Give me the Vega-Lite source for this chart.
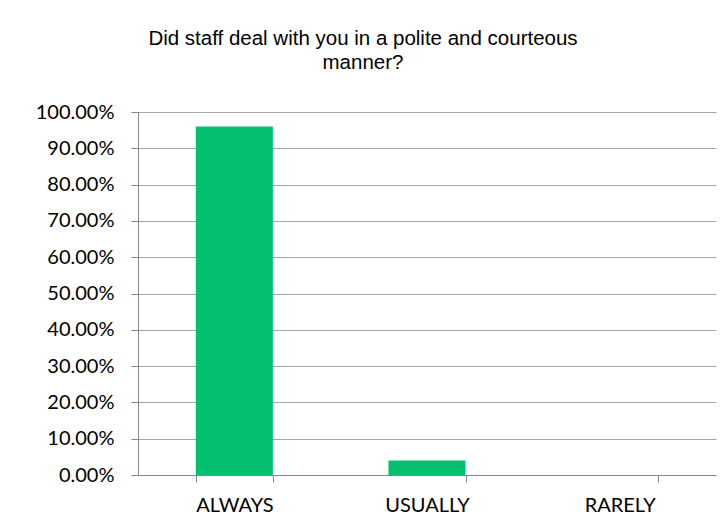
{
  "$schema": "https://vega.github.io/schema/vega-lite/v6.json",
  "autosize": "none",
  "width": 578,
  "height": 363,
  "padding": {"left": 138, "top": 112, "right": 10, "bottom": 56},
  "background": "white",
  "title": {
    "text": ["Did staff deal with you in a polite and courteous", "manner?"],
    "font": "Liberation Sans",
    "fontSize": 20.5,
    "fontWeight": "normal",
    "color": "#000000",
    "anchor": "middle",
    "dx": -64,
    "offset": 29,
    "lineHeight": 24
  },
  "data": {
    "values": [
      {"response": "ALWAYS", "share": 0.96},
      {"response": "USUALLY", "share": 0.04},
      {"response": "RARELY", "share": 0.0}
    ]
  },
  "mark": {"type": "bar", "color": "#02C06F"},
  "encoding": {
    "x": {
      "field": "response",
      "type": "nominal",
      "sort": ["ALWAYS", "USUALLY", "RARELY"],
      "scale": {"paddingInner": 0.6, "paddingOuter": 0.3},
      "axis": {
        "title": null,
        "labelAngle": 0,
        "tickBand": "extent",
        "grid": false,
        "domainColor": "#868686",
        "tickColor": "#868686",
        "tickSize": 7,
        "labelPadding": 13,
        "labelFont": "Lato",
        "labelFontSize": 20,
        "labelColor": "#000000"
      }
    },
    "y": {
      "field": "share",
      "type": "quantitative",
      "scale": {"domain": [0, 1], "nice": false},
      "axis": {
        "title": null,
        "format": ".2%",
        "values": [0, 0.1, 0.2, 0.3, 0.4, 0.5, 0.6, 0.7, 0.8, 0.9, 1.0],
        "grid": true,
        "gridColor": "#A6A6A6",
        "domainColor": "#868686",
        "tickColor": "#868686",
        "tickSize": 7,
        "labelPadding": 17,
        "labelFont": "Lato",
        "labelFontSize": 20,
        "labelColor": "#000000"
      }
    }
  },
  "config": {
    "view": {"stroke": null}
  }
}
